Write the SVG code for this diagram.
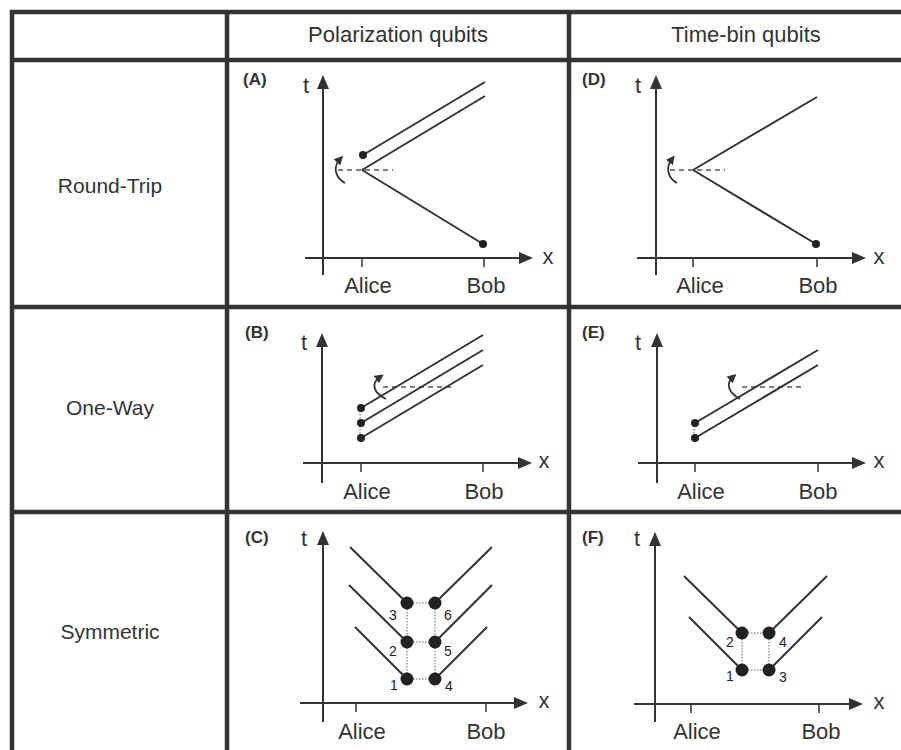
<svg xmlns="http://www.w3.org/2000/svg" width="901" height="750" viewBox="0 0 901 750">
<defs>
<style>
text{font-family:"Liberation Sans",Arial,Helvetica,sans-serif;fill:#333}
.hdr{font-size:22px;text-anchor:middle}
.row{font-size:21px;text-anchor:middle}
.pl{font-size:17px;font-weight:bold}
.ax{font-size:22px;text-anchor:middle}
.num{font-size:14px;text-anchor:middle;fill:#222}
.grid{stroke:#333;stroke-width:4.5;fill:none;stroke-linecap:square}
.axis{stroke:#333;stroke-width:2;fill:none;marker-end:url(#arr)}
.tick{stroke:#333;stroke-width:1.5}
.wl{stroke:#333;stroke-width:2;fill:none}
.dash{stroke:#555;stroke-width:1.5;stroke-dasharray:5,4;fill:none}
.dot{stroke:#666;stroke-width:1;stroke-dasharray:1.5,1.5;fill:none}
.rot{stroke:#333;stroke-width:1.8;fill:none;marker-end:url(#sarr)}
.pt{fill:#222}
</style>
<marker id="arr" markerUnits="userSpaceOnUse" markerWidth="14" markerHeight="12" viewBox="0 0 14 12" refX="8" refY="6" orient="auto"><path d="M0,0 L14,6 L0,12 z" fill="#333"/></marker>
<marker id="sarr" markerUnits="userSpaceOnUse" markerWidth="9" markerHeight="9" viewBox="0 0 8 8" refX="4" refY="4" orient="auto"><path d="M0,0 L8,4 L0,8 z" fill="#333"/></marker>
</defs>

<g id="table">
<path class="grid" d="M12,12 H905 M12,12 V752 M12,60 H905 M12,307 H905 M12,512 H905 M227,12 V752 M569,12 V752"/>
<text class="hdr" x="398" y="42">Polarization qubits</text>
<text class="hdr" x="746" y="42">Time-bin qubits</text>
<text class="row" x="110" y="193">Round-Trip</text>
<text class="row" x="110" y="415">One-Way</text>
<text class="row" x="110" y="639">Symmetric</text>
</g>

<g id="panel-A">
<text class="pl" x="243" y="85">(A)</text>
<line class="axis" x1="323" y1="275" x2="323" y2="81"/>
<line class="axis" x1="305" y1="258" x2="527" y2="258"/>
<text class="ax" x="306" y="93">t</text>
<text class="ax" x="548" y="264">x</text>
<line class="tick" x1="362" y1="258" x2="362" y2="267"/>
<line class="tick" x1="484" y1="258" x2="484" y2="267"/>
<text class="ax" x="368" y="293">Alice</text>
<text class="ax" x="486" y="293">Bob</text>
<line class="dash" x1="338" y1="170" x2="393" y2="170"/>
<line class="wl" x1="363" y1="155" x2="485" y2="82"/>
<line class="wl" x1="362" y1="170" x2="485" y2="96"/>
<line class="wl" x1="362" y1="170" x2="483" y2="244"/>
<circle class="pt" cx="363" cy="155" r="4"/>
<circle class="pt" cx="483" cy="244" r="4"/>
<path class="rot" d="M345,183 C336,178 332,168 340,159"/>
</g>

<g id="panel-D">
<text class="pl" x="582" y="85">(D)</text>
<line class="axis" x1="656" y1="275" x2="656" y2="81"/>
<line class="axis" x1="637" y1="258" x2="860" y2="258"/>
<text class="ax" x="638" y="93">t</text>
<text class="ax" x="879" y="264">x</text>
<line class="tick" x1="693" y1="258" x2="693" y2="267"/>
<line class="tick" x1="817" y1="258" x2="817" y2="267"/>
<text class="ax" x="700" y="293">Alice</text>
<text class="ax" x="818" y="293">Bob</text>
<line class="dash" x1="670" y1="170" x2="725" y2="170"/>
<line class="wl" x1="693" y1="170" x2="817" y2="97"/>
<line class="wl" x1="693" y1="170" x2="816" y2="244"/>
<circle class="pt" cx="816" cy="244" r="4"/>
<path class="rot" d="M677,183 C668,178 665,168 672,159"/>
</g>

<g id="panel-B">
<text class="pl" x="245" y="338">(B)</text>
<line class="axis" x1="322" y1="483" x2="322" y2="339"/>
<line class="axis" x1="303" y1="463" x2="526" y2="463"/>
<text class="ax" x="304" y="350">t</text>
<text class="ax" x="544" y="468">x</text>
<line class="tick" x1="361" y1="463" x2="361" y2="472"/>
<line class="tick" x1="483" y1="463" x2="483" y2="472"/>
<text class="ax" x="367" y="499">Alice</text>
<text class="ax" x="484" y="499">Bob</text>
<line class="dash" x1="383" y1="387" x2="455" y2="387"/>
<line class="dot" x1="360" y1="408" x2="360" y2="438"/>
<line class="wl" x1="361" y1="408" x2="483" y2="335"/>
<line class="wl" x1="361" y1="423" x2="483" y2="350"/>
<line class="wl" x1="361" y1="438" x2="483" y2="365"/>
<circle class="pt" cx="361" cy="408" r="4"/>
<circle class="pt" cx="361" cy="423" r="4"/>
<circle class="pt" cx="361" cy="438" r="4"/>
<path class="rot" d="M386,399 C374,393 370,384 380,377"/>
</g>

<g id="panel-E">
<text class="pl" x="582" y="338">(E)</text>
<line class="axis" x1="657" y1="483" x2="657" y2="339"/>
<line class="axis" x1="638" y1="463" x2="860" y2="463"/>
<text class="ax" x="638" y="350">t</text>
<text class="ax" x="879" y="468">x</text>
<line class="tick" x1="695" y1="463" x2="695" y2="472"/>
<line class="tick" x1="818" y1="463" x2="818" y2="472"/>
<text class="ax" x="701" y="499">Alice</text>
<text class="ax" x="818" y="499">Bob</text>
<line class="dash" x1="742" y1="387" x2="802" y2="387"/>
<line class="dot" x1="694" y1="423" x2="694" y2="438"/>
<line class="wl" x1="695" y1="423" x2="818" y2="350"/>
<line class="wl" x1="695" y1="438" x2="818" y2="365"/>
<circle class="pt" cx="695" cy="423" r="4"/>
<circle class="pt" cx="695" cy="438" r="4"/>
<path class="rot" d="M740,399 C729,393 725,384 733,377"/>
</g>

<g id="panel-C">
<text class="pl" x="245" y="543">(C)</text>
<line class="axis" x1="323" y1="722" x2="323" y2="537"/>
<line class="axis" x1="300" y1="703" x2="522" y2="703"/>
<text class="ax" x="304" y="546">t</text>
<text class="ax" x="544" y="708">x</text>
<line class="tick" x1="356" y1="703" x2="356" y2="712"/>
<line class="tick" x1="486" y1="703" x2="486" y2="712"/>
<text class="ax" x="362" y="739">Alice</text>
<text class="ax" x="486" y="739">Bob</text>
<path class="dot" d="M407,603 H435 M407,642 H435 M407,679 H435 M407,603 V679 M435,603 V679"/>
<path class="wl" d="M350,547 L407,603 M349,585 L407,642 M355,627 L407,679 M435,603 L492,547 M435,642 L492,585 M435,679 L487,627"/>
<circle class="pt" cx="407" cy="603" r="6.5"/>
<circle class="pt" cx="407" cy="642" r="6.5"/>
<circle class="pt" cx="407" cy="679" r="6.5"/>
<circle class="pt" cx="435" cy="603" r="6.5"/>
<circle class="pt" cx="435" cy="642" r="6.5"/>
<circle class="pt" cx="435" cy="679" r="6.5"/>
<text class="num" x="393" y="620">3</text>
<text class="num" x="393" y="656">2</text>
<text class="num" x="394" y="690">1</text>
<text class="num" x="448" y="620">6</text>
<text class="num" x="448" y="656">5</text>
<text class="num" x="449" y="691">4</text>
</g>

<g id="panel-F">
<text class="pl" x="582" y="543">(F)</text>
<line class="axis" x1="655" y1="722" x2="655" y2="538"/>
<line class="axis" x1="634" y1="704" x2="857" y2="704"/>
<text class="ax" x="637" y="546">t</text>
<text class="ax" x="879" y="709">x</text>
<line class="tick" x1="691" y1="704" x2="691" y2="713"/>
<line class="tick" x1="819" y1="704" x2="819" y2="713"/>
<text class="ax" x="697" y="739">Alice</text>
<text class="ax" x="821" y="739">Bob</text>
<path class="dot" d="M742,633 H769 M742,670 H769 M742,633 V670 M769,633 V670"/>
<path class="wl" d="M684,576 L742,633 M689,617 L742,670 M769,633 L827,576 M769,670 L822,617"/>
<circle class="pt" cx="742" cy="633" r="6.5"/>
<circle class="pt" cx="742" cy="670" r="6.5"/>
<circle class="pt" cx="769" cy="633" r="6.5"/>
<circle class="pt" cx="769" cy="670" r="6.5"/>
<text class="num" x="730" y="647">2</text>
<text class="num" x="730" y="681">1</text>
<text class="num" x="783" y="647">4</text>
<text class="num" x="783" y="682">3</text>
</g>
</svg>
